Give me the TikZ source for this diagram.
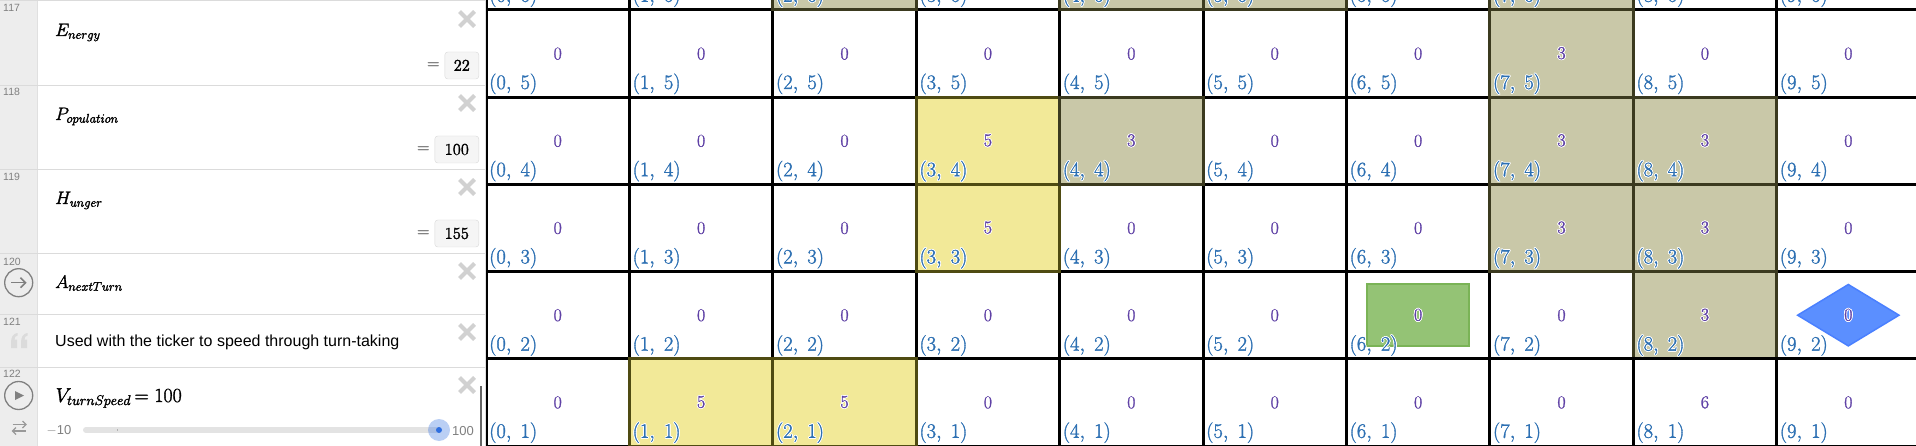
\RequirePackage{fix-cm}
\documentclass[tikz,border=0pt]{standalone}
\usepackage[no-math]{fontspec}
\usepackage{amsmath}
\usepackage{contour}
\contourlength{0.8pt}
\contournumber{12}
\newfontfamily\uifont{Liberation Sans}
\usetikzlibrary{positioning,shapes.geometric,calc}
\definecolor{cellpurple}{HTML}{6042A6}
\definecolor{labelblue}{HTML}{2D70B3}
\definecolor{cellyellow}{HTML}{F2E998}
\definecolor{cellyellowdark}{HTML}{4F4B12}
\definecolor{cellolive}{HTML}{C9C8A8}
\definecolor{cellolivedark}{HTML}{3B3A1F}
\definecolor{agentgreen}{HTML}{94C375}
\definecolor{agentgreendark}{HTML}{7AB356}
\definecolor{agentblue}{HTML}{5B8FFF}
\definecolor{agentbluedark}{HTML}{4A80FF}
\definecolor{sliderblue}{HTML}{2F6FE0}
% text a little heavier than the plain font
\newcommand{\heavy}[1]{\special{pdf:code 2 Tr 0.3 w}#1\special{pdf:code 0 Tr}}
\newcommand{\cellnum}[1]{\contour{white}{\heavy{$#1$}}}
\newcommand{\pointmath}[2]{\heavy{$(#1,\;#2)$}}
% cells that are not plain white with a 0
\newcommand{\marked}[2]{\expandafter\gdef\csname marked#1#2\endcsname{}}
\foreach \xx/\yy in {3/4,3/3,1/1,2/1,2/6,4/6,5/6,7/6,7/5,4/4,7/4,8/4,7/3,8/3,8/2,8/1,6/2,9/2} {\marked{\xx}{\yy}}

\begin{document}
\begin{tikzpicture}[
    x=1pt, y=-1pt,
    cell/.style={rectangle, draw=black, line width=3pt, fill=white, minimum width=143.4pt, minimum height=87.2pt, inner sep=0pt, text=cellpurple, font=\fontsize{18}{20}\selectfont},
    yellowcell/.style={cell, fill=cellyellow, draw=cellyellowdark},
    olivecell/.style={cell, fill=cellolive, draw=cellolivedark},
    pointtext/.style={anchor=base west, inner sep=0pt, text=labelblue, font=\fontsize{20.5}{22}\selectfont},
    rowline/.style={draw=black!14, line width=1pt},
    numtext/.style={anchor=west, inner sep=0pt, text=black!50, font=\uifont\fontsize{10.5}{12}\selectfont},
    closemark/.style={draw=black!18, line width=4pt},
    mathtext/.style={anchor=base west, inner sep=0pt, font=\fontsize{18}{20}\selectfont},
    valuebox/.style={rectangle, rounded corners=3pt, draw=black!15, fill=black!4, minimum height=27pt, inner sep=0pt, anchor=east, font=\fontsize{16.5}{20}\selectfont},
    eqsign/.style={inner sep=0pt, text=black!55, font=\fontsize{17}{20}\selectfont},
    iconring/.style={circle, draw=black!50, line width=1.3pt, minimum size=28pt, inner sep=0pt},
    agentshape/.style={draw, line width=1.5pt, minimum width=102pt, minimum height=62pt, inner sep=0pt, text=cellpurple, font=\fontsize{18}{20}\selectfont}
]
\useasboundingbox (0,0) rectangle (1916,446);
\clip (0,0) rectangle (1916,446);
\fill[white] (0,0) rectangle (1916,446);

% grid
\foreach \yy in {6,...,1} {
    \foreach \xx in {0,...,9} {
        \node (cell\xx\yy) [cell] at ({557.7+143.4*\xx},{53.6+87.2*(5-\yy)}) {\ifcsname marked\xx\yy\endcsname\else\ifnum\yy=6 \else\heavy{$0$}\fi\fi};
    }
}
\foreach \xx/\yy/\vv in {3/4/5,3/3/5,1/1/5,2/1/5} {
    \node (yellow\xx\yy) [yellowcell] at (cell\xx\yy.center) {\cellnum{\vv}};
}
\foreach \xx/\yy in {2/6,4/6,5/6,7/6} {
    \node (olive\xx\yy) [olivecell] at (cell\xx\yy.center) {};
}
\foreach \xx/\yy in {7/5,4/4,7/4,8/4,7/3,8/3,8/2} {
    \node (olive\xx\yy) [olivecell] at (cell\xx\yy.center) {\cellnum{3}};
}
\node (six81) [cell] at (cell81.center) {\heavy{$6$}};
\node (agentrect) [rectangle, agentshape, draw=agentgreendark, fill=agentgreen] at (cell62.center) {\cellnum{0}};
\node (agentdiam) [diamond, aspect=1.65, agentshape, draw=agentbluedark, fill=agentblue] at (cell92.center) {\cellnum{0}};

% coordinates of the cells
\foreach \yy in {6,...,1} {
    \foreach \xx in {0,...,9} {
        \node (point\xx\yy) [pointtext] at ($(cell\xx\yy.center)+(-68.7,35.4)$) {\ifcsname marked\xx\yy\endcsname\contour{white}{\pointmath{\xx}{\yy}}\else\pointmath{\xx}{\yy}\fi};
    }
}

% list panel
\fill[white] (0,0) rectangle (486,446);
\fill[black!7] (0,0) rectangle (37.5,446);
\draw[black!12, line width=1pt] (37.5,0) -- (37.5,446);
\draw[black!12, line width=1pt] (485.5,0) -- (485.5,446);
\foreach \yy in {1,85.5,169.5,253.5,314,367} {
    \draw[rowline] (0,\yy) -- (485,\yy);
}
\foreach \yy/\nn in {8/117,92/118,177/119,262/120,322/121,374/122} {
    \node (num\nn) [numtext] at (3,\yy) {\nn};
}
\foreach \yy in {19,103,187,271,332,385} {
    \draw[closemark] (459.5,\yy-7.5) -- (474.5,\yy+7.5);
    \draw[closemark] (474.5,\yy-7.5) -- (459.5,\yy+7.5);
}

\node (energy) [mathtext] at (55,36) {\heavy{$E_{nergy}$}};
\node (population) [mathtext] at (55,120) {\heavy{$P_{opulation}$}};
\node (hunger) [mathtext] at (55,204) {\heavy{$H_{unger}$}};
\node (nextturn) [mathtext] at (55,288) {\heavy{$A_{nextTurn}$}};
\node (note) [anchor=base west, inner sep=0pt, font=\uifont\fontsize{16}{20}\selectfont] at (55,346) {Used with the ticker to speed through turn-taking};
\node (speed) [anchor=base west, inner sep=0pt, font=\fontsize{20}{22}\selectfont] at (55.5,402) {\heavy{$V_{turnSpeed}\mskip-2mu=100$}};

\node (energybox) [valuebox, minimum width=34pt] at (479,65.5) {\heavy{$22$}};
\node (popbox) [valuebox, minimum width=44pt] at (479,149.5) {\heavy{$100$}};
\node (hungerbox) [valuebox, minimum width=44pt] at (479,233.5) {\heavy{$155$}};
\node (energyeq) [eqsign, left=5pt of energybox] {\heavy{$=$}};
\node (popeq) [eqsign, left=5pt of popbox] {\heavy{$=$}};
\node (hungereq) [eqsign, left=5pt of hungerbox] {\heavy{$=$}};

% icons in the gutter
\node (nextring) [iconring] at (18.7,282.7) {};
\draw[black!50, line width=1.5pt] (11,282.7) -- (25.5,282.7);
\draw[black!50, line width=1.5pt] (20.5,277.7) -- (25.5,282.7) -- (20.5,287.7);
\node (playring) [iconring] at (18.7,395.5) {};
\fill[black!50] (15,391) -- (24,395.5) -- (15,400) -- cycle;
\foreach \xx in {11,21} {
    \fill[black!14] (\xx,343) -- (\xx,348) -- (\xx+6,348) -- (\xx+6,339.5) -- (\xx+3.5,339.5) .. controls (\xx+3.5,337) and (\xx+4.5,336) .. (\xx+6.5,335.5) -- (\xx+6.5,333) .. controls (\xx+2,333.5) and (\xx,337) .. (\xx,343) -- cycle;
}
\draw[black!40, line width=1.2pt] (12.5,424.5) -- (26,424.5);
\draw[black!40, line width=1.2pt] (22.5,421) -- (26,424.5) -- (22.5,428);
\draw[black!40, line width=1.2pt] (12.5,431) -- (26,431);
\draw[black!40, line width=1.2pt] (16,427.5) -- (12.5,431) -- (16,434.5);

% slider
\node (sliderlow) [inner sep=0pt, text=black!50, font=\fontsize{13}{15}\selectfont] at (59,431) {$-$\uifont 10};
\node (sliderhigh) [inner sep=0pt, text=black!50, font=\uifont\fontsize{13}{15}\selectfont] at (463,431) {100};
\draw[black!11, line width=6pt, line cap=round] (86,430) -- (436,430);
\fill[black!30] (116.5,429.3) rectangle (118,430.7);
\node (sliderhalo) [circle, fill=sliderblue, fill opacity=.33, minimum size=22pt, inner sep=0pt] at (439,430) {};
\node (sliderdot) [circle, fill=sliderblue, minimum size=6pt, inner sep=0pt] at (439,430) {};
\draw[black!60, line width=1.5pt] (481,386) -- (481,446);
\end{tikzpicture}
\end{document}
